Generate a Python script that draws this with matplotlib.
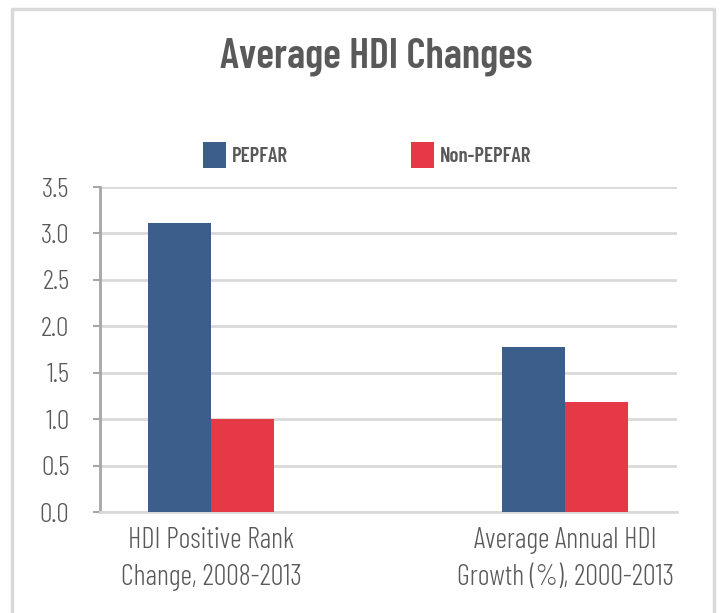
import matplotlib
matplotlib.use("Agg")
import matplotlib.pyplot as plt
from matplotlib.lines import Line2D

categories = ["HDI Positive Rank\nChange, 2008-2013", "Average Annual HDI\nGrowth (%), 2000-2013"]
series_names = ["PEPFAR", "Non-PEPFAR"]
pepfar = [3.11, 1.78]
non_pepfar = [1.0, 1.19]
yticks = [0.0, 0.5, 1.0, 1.5, 2.0, 2.5, 3.0, 3.5]

BLUE = "#3B5E8B"
RED = "#E63946"
TXT = "#595959"
GRID = "#D9D9D9"
FONT = ["Barlow Condensed", "DejaVu Sans"]

W, H = 720, 613
fig = plt.figure(figsize=(W / 100, H / 100), dpi=100)
fig.patch.set_facecolor("white")
ax = fig.add_axes([100 / W, 1 - 512 / H, 577 / W, 325 / H])

x = range(len(categories))
bw = 0.178
b1 = ax.bar([i - bw / 2 for i in x], pepfar, bw, color=BLUE, label=series_names[0], zorder=3)
b2 = ax.bar([i + bw / 2 for i in x], non_pepfar, bw, color=RED, label=series_names[1], zorder=3)

ax.set_xlim(-0.314, 1.316)
ax.set_ylim(0, 3.5)
ax.set_yticks(yticks)
ax.set_yticklabels([f"{v:.1f}" for v in yticks], fontsize=20, color=TXT, family=FONT, weight=300)
ax.set_xticks(list(x))
ax.set_xticklabels(categories, fontsize=20.5, color=TXT, family=FONT, weight=300, linespacing=1.45)
ax.tick_params(axis="x", length=0, pad=11)
ax.tick_params(axis="y", length=5, width=1.5, color="#A6A6A6", pad=17)
ax.grid(axis="y", color=GRID, lw=2, zorder=0)
ax.set_axisbelow(True)
for s in ["top", "right"]:
    ax.spines[s].set_visible(False)
ax.spines["left"].set_color("#A6A6A6")
ax.spines["left"].set_linewidth(2)
ax.spines["bottom"].set_color(GRID)
ax.spines["bottom"].set_linewidth(2)

fig.text(376 / W, 1 - 57 / H, "Average HDI Changes", ha="center", va="center",
         fontsize=30, fontweight=600, color=TXT, family=FONT)

leg = fig.legend(handles=[b1, b2], loc="center left", bbox_to_anchor=(184 / W, 1 - 155 / H),
                 ncol=2, frameon=False, handlelength=1.1, handleheight=1.5,
                 handletextpad=0.3, columnspacing=5.9,
                 prop={"family": FONT, "weight": 600, "size": 15})
for t in leg.get_texts():
    t.set_color(TXT)

# frame around the chart (bottom edge is cut off in the picture)
fig.add_artist(Line2D([12 / W, 12 / W, 714 / W, 714 / W], [0, 1 - 9 / H, 1 - 9 / H, 0],
                      color=GRID, lw=2.5))

fig.savefig("out.png", dpi=100, facecolor="white")
